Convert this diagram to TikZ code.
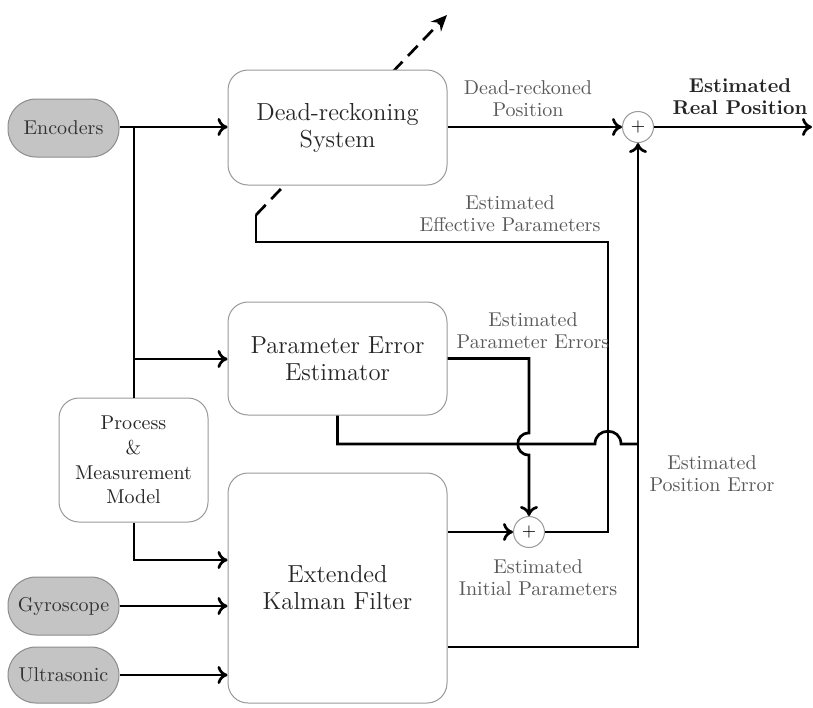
\documentclass[tikz,border=0pt]{standalone}
\usetikzlibrary{arrows.meta}
\begin{document}
\begin{tikzpicture}[x=0.5pt,y=-0.5pt,
  blk/.style={draw=black!40, line width=0.5pt, rounded corners=10pt, fill=white,
    minimum width=109.5pt, align=center, text=black!85,
    font={\fontsize{12.3}{13.5}\selectfont}},
  pill/.style={draw=black!45, line width=0.5pt, fill=black!23, rounded corners=14pt,
    minimum width=55.5pt, minimum height=29pt, text=black!80,
    font={\fontsize{10}{12}\selectfont}},
  sumnode/.style={circle, draw=black!40, line width=0.5pt, fill=white, text=black,
    minimum size=15.5pt, inner sep=0pt, font={\fontsize{9}{10}\selectfont}},
  wire/.style={line width=1.35pt},
  conn/.style={line width=1.35pt, -{To[length=5pt,width=9pt]}},
  lbl/.style={align=center, text=black!65, font={\fontsize{10}{11}\selectfont}}
]
\useasboundingbox (0,0) rectangle (813,707);

% coordinates
\coordinate (fbend) at (256,215);
\coordinate (dtip) at (447,15);
\coordinate (out) at (812,127);

% dashed parameter arrow (behind the dead-reckoning box)
\draw[line width=1.35pt, dash pattern=on 7pt off 4pt,
      -{Stealth[length=8pt,width=7pt]}] (fbend) -- (dtip);

% boxes
\node[blk, minimum height=57.5pt] (dr) at (337.5,127.5) {Dead-reckoning\\System};
\node[blk, minimum height=56.5pt] (pee) at (337.5,358.5) {Parameter Error\\Estimator};
\node[blk, minimum height=115pt] (ekf) at (337.5,588) {Extended\\Kalman Filter};
\node[blk, minimum width=74.5pt, minimum height=62pt,
      font={\fontsize{10}{12.3}\selectfont}] (pm) at (133.5,460)
      {Process\\\&\\Measurement\\Model};

\node[pill] (enc) at (63.5,128) {Encoders};
\node[pill] (gyr) at (63.5,606) {Gyroscope};
\node[pill, minimum height=28pt] (ult) at (63.5,675) {Ultrasonic};

\node[sumnode] (s1) at (638,127) {+};
\node[sumnode] (s2) at (529,532) {+};

% sensor inputs
\draw[conn] (enc.east |- 0,127) -- (dr.west |- 0,127);
\draw[wire] (134,127) -- (pm.north -| 134,0);
\draw[conn] (134,359) -- (pee.west |- 0,359);
\draw[conn] (pm.south -| 134,0) -- (134,560) -- (ekf.west |- 0,560);
\draw[conn] (gyr.east) -- (gyr.east -| ekf.west);
\draw[conn] (ult.east) -- (ult.east -| ekf.west);

% dead-reckoning output
\draw[conn] (dr.east |- s1) -- (s1);
\draw[conn] (s1) -- (out);

% EKF outputs
\draw[conn] (ekf.east |- s2) -- (s2);
\draw[conn] (ekf.east |- 0,647) -- (638,647) -- (s1.south);

% estimated parameter errors
\draw[conn] (pee.east) -- (529,358.5) -- (529,433)
  .. controls (514,433) and (514,455) .. (529,455) -- (s2.north);

% estimated position error into the estimator
\draw[wire] (638,444) -- (621,444)
  .. controls (621,427) and (595,427) .. (595,444) -- (337.5,444) -- (pee.south);

% effective parameters feedback
\draw[wire] (s2.east) -- (608,532) -- (608,242) -- (256,242) -- (fbend);

% labels
\node[lbl] (l1) at (528,99) {Dead-reckoned\\Position};
\node[lbl, text=black!85, font={\fontsize{10}{11}\selectfont\bfseries}] (l2) at (740,97) {Estimated\\Real Position};
\node[lbl] (l3) at (510,214) {Estimated\\Effective Parameters};
\node[lbl] (l4) at (533,331) {Estimated\\Parameter Errors};
\node[lbl] (l5) at (712,474) {Estimated\\Position Error};
\node[lbl] (l6) at (538,578) {Estimated\\Initial Parameters};
\end{tikzpicture}
\end{document}
